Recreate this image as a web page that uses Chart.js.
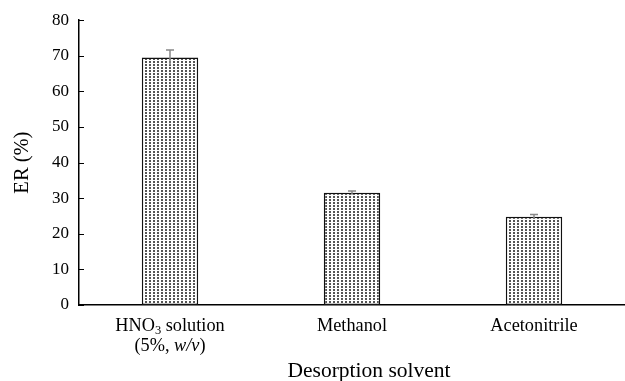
<!DOCTYPE html>
<html>
<head>
<meta charset="utf-8">
<script src="https://cdn.jsdelivr.net/npm/chart.js@4"></script>
<style>
  body { margin: 0; background: #fff; }
  #wrap { width: 625px; height: 381px; }
</style>
</head>
<body>
<div id="wrap"><canvas id="erChart"></canvas></div>
<script>
// data
var categories = ['HNO3 solution (5%, w/v)', 'Methanol', 'Acetonitrile'];
var erValues = [69.5, 31.5, 24.8];
var erErrors = [2.1, 0.5, 0.6];
var yTicks = [0, 10, 20, 30, 40, 50, 60, 70, 80];
var xTitle = 'Desorption solvent';

// label pieces: [text, style] where style is '' / 'sub' / 'i'
var labelLines = [
    [[['HNO', ''], ['3', 'sub'], [' solution', '']], [['(5%, ', ''], ['w/v', 'i'], [')', '']]],
    [[['Methanol', '']]],
    [[['Acetonitrile', '']]]
];

var serif = "'Liberation Serif', 'Times New Roman', serif";

// dotted fill like the original
function dotPattern() {
    var c = document.createElement('canvas');
    c.width = 4; c.height = 3;
    var g = c.getContext('2d');
    g.fillStyle = '#fff';
    g.fillRect(0, 0, 4, 3);
    g.fillStyle = '#555';
    g.fillRect(1, 1, 2, 2);
    return g.createPattern(c, 'repeat');
}

var extras = {
    id: 'extras',
    afterDatasetsDraw: function (chart) {
        var ctx = chart.ctx;
        var y = chart.scales.y;
        var x = chart.scales.x;
        var meta = chart.getDatasetMeta(0);
        var area = chart.chartArea;
        ctx.save();
        // error bars
        ctx.strokeStyle = '#888';
        ctx.lineWidth = 1.5;
        meta.data.forEach(function (bar, i) {
            var top = y.getPixelForValue(erValues[i] + erErrors[i]);
            var bot = y.getPixelForValue(erValues[i] - erErrors[i]);
            ctx.beginPath();
            ctx.moveTo(bar.x, top); ctx.lineTo(bar.x, bot);
            ctx.moveTo(bar.x - 4, top); ctx.lineTo(bar.x + 4, top);
            ctx.stroke();
        });
        // inward tick marks on y axis
        ctx.strokeStyle = '#000';
        ctx.lineWidth = 1;
        yTicks.forEach(function (v) {
            var py = Math.round(y.getPixelForValue(v)) + 0.5;
            ctx.beginPath();
            ctx.moveTo(area.left, py); ctx.lineTo(area.left + 5, py);
            ctx.stroke();
        });
        // category labels with subscript / italic
        ctx.fillStyle = '#000';
        ctx.textBaseline = 'middle';
        ctx.textAlign = 'left';
        var fontFor = function (st) {
            if (st === 'sub') return '12.5px ' + serif;
            if (st === 'i') return 'italic 18.3px ' + serif;
            return '18.3px ' + serif;
        };
        labelLines.forEach(function (lines, i) {
            var cx = x.getPixelForValue(i);
            lines.forEach(function (runs, li) {
                var ly = area.bottom + 21 + li * 20;
                var w = 0;
                runs.forEach(function (r) { ctx.font = fontFor(r[1]); w += ctx.measureText(r[0]).width; });
                var px = cx - w / 2;
                runs.forEach(function (r) {
                    ctx.font = fontFor(r[1]);
                    ctx.fillText(r[0], px, r[1] === 'sub' ? ly + 5 : ly);
                    px += ctx.measureText(r[0]).width;
                });
            });
        });
        // x axis title, sits a bit right of centre in the original
        ctx.font = '21.5px ' + serif;
        ctx.textAlign = 'center';
        ctx.fillText(xTitle, (area.left + area.right) / 2 + 17, area.bottom + 66);
        ctx.restore();
    }
};

var ctx = document.getElementById('erChart').getContext('2d');
var erChart = new Chart(ctx, {
    type: 'bar',
    data: {
        labels: categories,
        datasets: [{
            label: 'ER (%)',
            data: erValues,
            backgroundColor: dotPattern(),
            borderColor: '#111',
            borderWidth: 1.5,
            borderSkipped: false,
            barPercentage: 0.31,
            categoryPercentage: 1
        }]
    },
    plugins: [extras],
    options: {
        responsive: true,
        maintainAspectRatio: false,
        animation: false,
        layout: { padding: { top: 13, right: 0, left: 0, bottom: 0 } },
        plugins: {
            legend: { display: false },
            tooltip: { enabled: false }
        },
        scales: {
            x: {
                grid: { display: false, drawTicks: false },
                border: { color: '#000', width: 1.5 },
                ticks: { callback: function () { return ''; } },
                afterFit: function (s) { s.height = 76; }
            },
            y: {
                min: 0,
                max: 80,
                afterBuildTicks: function (s) { s.ticks = yTicks.map(function (v) { return { value: v }; }); },
                grid: { display: false, drawTicks: false },
                border: { color: '#000', width: 1.5 },
                ticks: {
                    color: '#000',
                    padding: 10,
                    font: { family: serif, size: 17 }
                },
                title: {
                    display: true,
                    text: 'ER (%)',
                    color: '#000',
                    font: { family: serif, size: 20.5 },
                    padding: { top: 10, bottom: 0 }
                },
                afterFit: function (s) { s.width = 79; }
            }
        }
    }
});
</script>
</body>
</html>
